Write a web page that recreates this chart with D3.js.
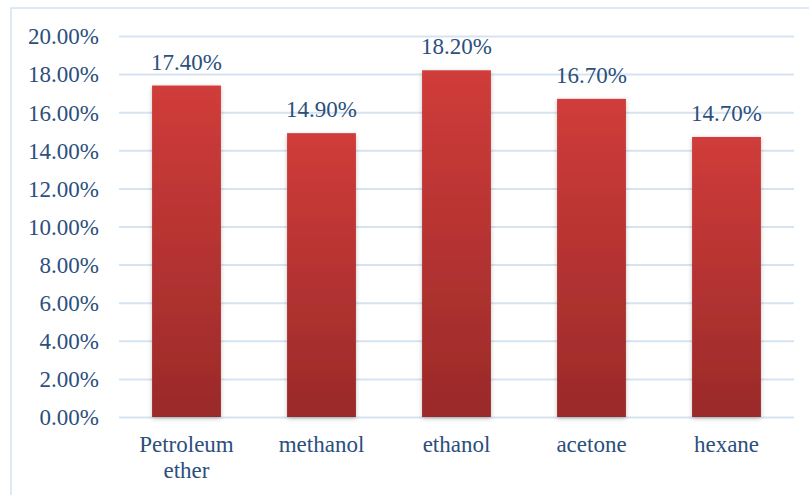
<!DOCTYPE html>
<html>
<head>
<meta charset="utf-8">
<script src="https://cdn.jsdelivr.net/npm/d3@7"></script>
<style>
  html, body { margin: 0; padding: 0; background: #fff; }
  svg { display: block; }
  svg text { font-family: "Times New Roman", "Liberation Serif", "DejaVu Serif", serif; font-size: 23px; }
</style>
</head>
<body>
<svg id="chart" width="809" height="495"></svg>
<script>
// Yield by extraction solvent
const categories = ["Petroleum ether", "methanol", "ethanol", "acetone", "hexane"];
const values = [17.40, 14.90, 18.20, 16.70, 14.70];
const yTicks = [0, 2, 4, 6, 8, 10, 12, 14, 16, 18, 20];

const W = 809, H = 495;
const margin = { left: 119, right: 15, top: 36, bottom: 78 };
const textColor = "#2c4f7c";

const svg = d3.select("#chart");

// chart area frame
svg.append("rect")
  .attr("x", 11).attr("y", 8)
  .attr("width", W - 11 + 2).attr("height", H - 8 + 2)
  .attr("fill", "none")
  .attr("stroke", "#d5e2f0")
  .attr("stroke-width", 1.5);

const x = d3.scaleBand()
  .domain(categories)
  .range([margin.left, W - margin.right])
  .paddingInner(0.49)
  .paddingOuter(0.245);

const y = d3.scaleLinear()
  .domain([0, 20])
  .range([H - margin.bottom, margin.top]);

const defs = svg.append("defs");
const grad = defs.append("linearGradient")
  .attr("id", "barGrad")
  .attr("x1", 0).attr("y1", 0).attr("x2", 0).attr("y2", 1);
grad.append("stop").attr("offset", "0%").attr("stop-color", "#d03c3a");
grad.append("stop").attr("offset", "100%").attr("stop-color", "#9a2a29");

const shadow = defs.append("filter")
  .attr("id", "barShadow")
  .attr("x", "-20%").attr("y", "-10%").attr("width", "140%").attr("height", "120%");
shadow.append("feDropShadow")
  .attr("dx", 0).attr("dy", 1.5)
  .attr("stdDeviation", 2)
  .attr("flood-color", "#000")
  .attr("flood-opacity", 0.25);

// horizontal gridlines
const yAxis = d3.axisLeft(y)
  .tickValues(yTicks)
  .tickSize(-(W - margin.right - margin.left))
  .tickPadding(20)
  .tickFormat(d => d3.format(".2f")(d) + "%");

const gy = svg.append("g")
  .attr("transform", `translate(${margin.left},0)`)
  .call(yAxis)
  .attr("font-family", null)
  .attr("font-size", null);
gy.select(".domain").remove();
gy.selectAll(".tick line")
  .attr("stroke", "#d6e3f1")
  .attr("stroke-width", 2);
gy.selectAll(".tick text")
  .attr("fill", textColor)
  .attr("dy", "0.34em");

// bars
svg.append("g")
  .selectAll("rect")
  .data(values)
  .join("rect")
  .attr("x", (d, i) => x(categories[i]))
  .attr("y", d => y(d))
  .attr("width", x.bandwidth())
  .attr("height", d => y(0) - y(d))
  .attr("fill", "url(#barGrad)")
  .attr("filter", "url(#barShadow)");

// value labels
svg.append("g")
  .selectAll("text")
  .data(values)
  .join("text")
  .attr("x", (d, i) => x(categories[i]) + x.bandwidth() / 2)
  .attr("y", d => y(d) - 16)
  .attr("text-anchor", "middle")
  .attr("fill", textColor)
  .text(d => d3.format(".2f")(d) + "%");

// category labels, wrapped on spaces
const xl = svg.append("g")
  .selectAll("text")
  .data(categories)
  .join("text")
  .attr("x", d => x(d) + x.bandwidth() / 2)
  .attr("y", 452)
  .attr("text-anchor", "middle")
  .attr("fill", textColor);
xl.each(function(d) {
  const t = d3.select(this);
  d.split(" ").forEach((w, i) => {
    t.append("tspan")
      .attr("x", t.attr("x"))
      .attr("dy", i === 0 ? 0 : 26)
      .text(w);
  });
});
</script>
</body>
</html>
